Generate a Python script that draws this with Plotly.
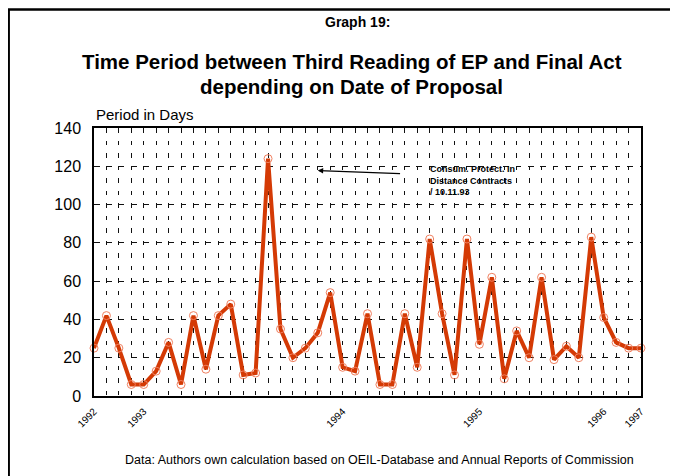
import plotly.graph_objects as go

# Data
period_days = [25, 42, 25, 6, 6, 13, 28, 6, 42, 14, 42, 48, 11, 12, 124, 35, 20, 25, 33, 54,
               15, 13, 43, 6, 6, 43, 15, 82, 43, 11, 82, 27, 62, 9, 34, 20, 62, 19, 26, 20,
               83, 41, 28, 25, 25]
x_index = list(range(len(period_days)))
year_tick_pos = [0, 4, 20, 31, 41, 44]
year_tick_labels = ["1992", "1993", "1994", "1995", "1996", "1997"]

FONT = "Arial, Liberation Sans, sans-serif"

fig = go.Figure()
fig.add_trace(go.Scatter(
    x=x_index, y=period_days, mode="lines+markers",
    line=dict(color="#D43A05", width=4),
    marker=dict(symbol="circle-open", size=8, color="#F08060", line=dict(width=1)),
    showlegend=False, cliponaxis=False,
))

# the page body has an 8px margin, so the figure is drawn 8px smaller and offset
fig.update_layout(
    width=670, height=468,
    margin=dict(l=86, r=37, t=120, b=80),
    paper_bgcolor="white", plot_bgcolor="white",
    font=dict(family=FONT, color="black"),
    xaxis=dict(
        range=[0, 44], tickvals=year_tick_pos, ticktext=year_tick_labels,
        tickangle=-45, tickfont=dict(size=10), ticklabelstandoff=4,
        showgrid=True, gridcolor="#111", gridwidth=1, griddash="4.5px,8px",
        minor=dict(dtick=1, tick0=0, showgrid=True, gridcolor="#111", gridwidth=1, griddash="4.5px,8px"),
        showline=True, linecolor="black", linewidth=1.5, mirror=True,
        zeroline=False, ticks="",
    ),
    yaxis=dict(
        range=[0, 140], dtick=20, tickfont=dict(size=16),
        showgrid=True, gridcolor="#111", gridwidth=1, griddash="5.5px,6.9px",
        showline=True, linecolor="black", linewidth=1.5, mirror=True,
        zeroline=False, ticks="", ticklabelstandoff=8,
    ),
)

fig.add_shape(type="rect", xref="paper", yref="paper",
              x0=-0.156, x1=1.3, y0=-0.6, y1=1.442,
              line=dict(color="black", width=2.5), fillcolor="rgba(0,0,0,0)", layer="above")

fig.add_annotation(xref="paper", yref="paper", x=0.482, y=1.397, text="<b>Graph 19:</b>",
                   showarrow=False, font=dict(size=14), xanchor="center", yanchor="middle")
fig.add_annotation(xref="paper", yref="paper", x=0.471, y=1.248,
                   text="<b>Time Period between Third Reading of EP and Final Act</b>",
                   showarrow=False, font=dict(size=20.5), xanchor="center", yanchor="middle")
fig.add_annotation(xref="paper", yref="paper", x=0.471, y=1.155,
                   text="<b>depending on Date of Proposal</b>",
                   showarrow=False, font=dict(size=20.5), xanchor="center", yanchor="middle")
fig.add_annotation(xref="paper", yref="paper", x=0.0, y=1.05, text="Period in Days",
                   showarrow=False, font=dict(size=15), xanchor="left", yanchor="middle")
fig.add_annotation(xref="paper", yref="paper", x=0.522, y=-0.239,
                   text="Data: Authors own calculation based on OEIL-Database and Annual Reports of Commission",
                   showarrow=False, font=dict(size=12.5), xanchor="center", yanchor="middle")

# arrow pointing at the peak
fig.add_annotation(x=18.0, y=117.8, ax=24.74, ay=116.1, xref="x", yref="y", axref="x", ayref="y",
                   text="", showarrow=True, arrowhead=2, arrowsize=0.9, arrowwidth=1.2, arrowcolor="black")
fig.add_annotation(x=26.86, y=122.4, xref="x", yref="y",
                   text="<b>Consum. Protect. In<br>Distance Contracts<br>/ 10.11.93</b>",
                   showarrow=False, font=dict(size=9), xanchor="left", yanchor="top", align="left")

fig.write_html("out.html")
